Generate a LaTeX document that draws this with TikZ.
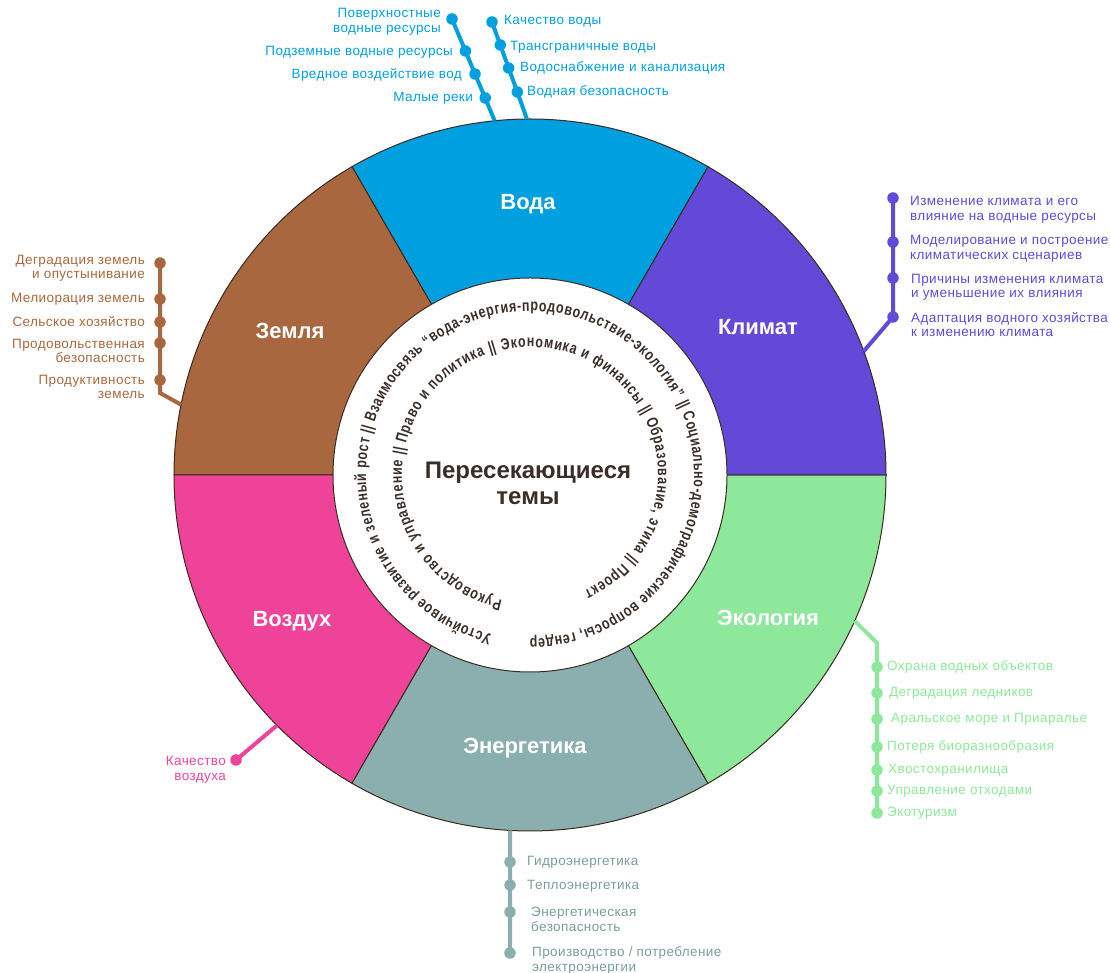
\documentclass[tikz,border=0pt]{standalone}
\usepackage{fontspec}
\setmainfont{Liberation Sans}
\newfontfamily\spiralfont[FakeStretch=0.78]{Liberation Sans}
\newfontfamily\lblfont[LetterSpace=3]{Liberation Sans}
\usetikzlibrary{decorations.text}
\definecolor{waterc}{HTML}{00A0E0}
\definecolor{climc}{HTML}{6349D8}
\definecolor{ecoc}{HTML}{8EE89B}
\definecolor{enc}{HTML}{8AAFAE}
\definecolor{entxt}{HTML}{7B9C9C}
\definecolor{airc}{HTML}{EE4399}
\definecolor{landc}{HTML}{A9673F}
\definecolor{edgec}{HTML}{3B2A20}
\definecolor{txtdark}{HTML}{3A2E28}
\tikzset{
  seg/.style={draw=edgec, line width=1},
  seglbl/.style={text=white, font={\bfseries\fontsize{22}{22}\selectfont}, inner sep=0},
  dot/.style={circle, fill=#1, inner sep=0, minimum size=11.5},
  branch/.style={draw=#1, line width=4},
  lbl/.style={text=#1, font={\lblfont\fontsize{13.5}{14.5}\selectfont}, inner sep=0},
  spiral/.style={decorate, decoration={text along path, text align={fit to path}, text={#1}}}
}
\begin{document}
\begin{tikzpicture}[x=1pt,y=1pt]
\useasboundingbox (0,0) rectangle (1110,973);
\begin{scope}[shift={(530,498)}]
  % segments
  \filldraw[seg, fill=waterc] (0,0) -- (60:356) arc[start angle=60, end angle=120, radius=356] -- cycle;
  \filldraw[seg, fill=landc] (0,0) -- (120:356) arc[start angle=120, end angle=180, radius=356] -- cycle;
  \filldraw[seg, fill=airc] (0,0) -- (180:356) arc[start angle=180, end angle=240, radius=356] -- cycle;
  \filldraw[seg, fill=enc] (0,0) -- (240:356) arc[start angle=240, end angle=300, radius=356] -- cycle;
  \filldraw[seg, fill=ecoc] (0,0) -- (300:356) arc[start angle=300, end angle=360, radius=356] -- cycle;
  \filldraw[seg, fill=climc] (0,0) -- (0:356) arc[start angle=0, end angle=60, radius=356] -- cycle;
  \filldraw[seg, fill=white] (0,0) circle[radius=197];
  % edge points of connectors
  \coordinate (wEa) at (95.7:356);
  \coordinate (wEb) at (90.5:356);
  \coordinate (kE) at (20.35:356);
  \coordinate (zE) at (168.6:356);
  \coordinate (eE) at (-24.2:356);
  \coordinate (nE) at (266.8:356);
  \coordinate (aE) at (224.7:356);
  % spiral texts
  \path[spiral={|\spiralfont\bfseries\fontsize{16}{16}\selectfont\color{txtdark}|Устойчивое развитие и зеленый рост {\textbar\textbar} Взаимосвязь “вода-энергия-продовольствие-экология” {\textbar\textbar} Социально-демографические вопросы, гендер}]
    (256.5:164) arc[start angle=256.5, end angle=-90, radius=164];
  \path[spiral={|\spiralfont\bfseries\fontsize{16}{16}\selectfont\color{txtdark}|Руководство и управление {\textbar\textbar} Право и политика {\textbar\textbar} Экономика и финансы {\textbar\textbar} Образование, этика {\textbar\textbar} Проект}]
    (257.5:128) arc[start angle=257.5, end angle=-65, radius=128];
\end{scope}
% segment labels
\node[seglbl] (tWater) at (528,769) {Вода};
\node[seglbl] (tClim) at (758,646) {Климат};
\node[seglbl] (tEco) at (768,355) {Экология};
\node[seglbl] (tEn) at (525,225) {Энергетика};
\node[seglbl] (tAir) at (292,352) {Воздух};
\node[seglbl] (tLand) at (290,642) {Земля};
\node[text=txtdark, font={\bfseries\fontsize{24}{26}\selectfont}, align=center, inner sep=0] (center) at (528,490) {Пересекающиеся\\темы};
% ---- Water branches
\node[dot=waterc] (wa1) at (452,954) {};
\node[dot=waterc] (wa2) at (465.4,922) {};
\node[dot=waterc] (wa3) at (475,899) {};
\node[dot=waterc] (wa4) at (485.2,875) {};
\draw[branch=waterc] (wEa) -- (wa4.center) -- (wa3.center) -- (wa2.center) -- (wa1.center);
\node[dot=waterc] (wb1) at (492,951) {};
\node[dot=waterc] (wb2) at (500.3,928) {};
\node[dot=waterc] (wb3) at (508.6,905) {};
\node[dot=waterc] (wb4) at (517.3,881) {};
\draw[branch=waterc] (wEb) -- (wb4.center) -- (wb3.center) -- (wb2.center) -- (wb1.center);
\node[lbl=waterc, anchor=east, align=right] (lwa1) at (441,951) {Поверхностные\\водные ресурсы};
\node[lbl=waterc, anchor=east] (lwa2) at (453,921) {Подземные водные ресурсы};
\node[lbl=waterc, anchor=east] (lwa3) at (462,898) {Вредное воздействие вод};
\node[lbl=waterc, anchor=east] (lwa4) at (473,875) {Малые реки};
\node[lbl=waterc, anchor=west] (lwb1) at (504,952) {Качество воды};
\node[lbl=waterc, anchor=west] (lwb2) at (510,926) {Трансграничные воды};
\node[lbl=waterc, anchor=west] (lwb3) at (520,905) {Водоснабжение и канализация};
\node[lbl=waterc, anchor=west] (lwb4) at (527,881) {Водная безопасность};
% ---- Climate branch
\node[dot=climc] (k1) at (893,775) {};
\node[dot=climc] (k2) at (893,731) {};
\node[dot=climc] (k3) at (893,695) {};
\node[dot=climc] (k4) at (893,656) {};
\draw[branch=climc] (kE) -- (k4.center) -- (k3.center) -- (k2.center) -- (k1.center);
\node[lbl=climc, anchor=west, align=left] (lk1) at (910,763) {Изменение климата и его\\влияние на водные ресурсы};
\node[lbl=climc, anchor=west, align=left] (lk2) at (910,724) {Моделирование и построение\\климатических сценариев};
\node[lbl=climc, anchor=west, align=left] (lk3) at (911,685.5) {Причины изменения климата\\и уменьшение их влияния};
\node[lbl=climc, anchor=west, align=left] (lk4) at (911,648.5) {Адаптация водного хозяйства\\к изменению климата};
% ---- Land branch
\node[dot=landc] (z1) at (160,710) {};
\node[dot=landc] (z2) at (160,674) {};
\node[dot=landc] (z3) at (160,651) {};
\node[dot=landc] (z4) at (160,630) {};
\node[dot=landc] (z5) at (160,593) {};
\coordinate (zc) at (160,580);
\draw[branch=landc] (zE) -- (zc) -- (z5.center) -- (z4.center) -- (z3.center) -- (z2.center) -- (z1.center);
\node[lbl=landc, anchor=east, align=right] (lz1) at (145,704.5) {Деградация земель\\и опустынивание};
\node[lbl=landc, anchor=east] (lz2) at (145,674) {Мелиорация земель};
\node[lbl=landc, anchor=east] (lz3) at (145,651) {Сельское хозяйство};
\node[lbl=landc, anchor=east, align=right] (lz4) at (145,622) {Продовольственная\\безопасность};
\node[lbl=landc, anchor=east, align=right] (lz5) at (145,586) {Продуктивность\\земель};
% ---- Ecology branch
\coordinate (ec) at (877,330);
\node[dot=ecoc] (e1) at (877,306) {};
\node[dot=ecoc] (e2) at (877,280) {};
\node[dot=ecoc] (e3) at (877,254) {};
\node[dot=ecoc] (e4) at (877,226) {};
\node[dot=ecoc] (e5) at (877,203) {};
\node[dot=ecoc] (e6) at (877,182) {};
\node[dot=ecoc] (e7) at (877,160) {};
\draw[branch=ecoc] (eE) -- (ec) -- (e1.center) -- (e2.center) -- (e3.center) -- (e4.center) -- (e5.center) -- (e6.center) -- (e7.center);
\node[lbl=ecoc, anchor=west] (le1) at (887,306) {Охрана водных объектов};
\node[lbl=ecoc, anchor=west] (le2) at (889,280) {Деградация ледников};
\node[lbl=ecoc, anchor=west] (le3) at (891,254) {Аральское море и Приаралье};
\node[lbl=ecoc, anchor=west] (le4) at (887,226) {Потеря биоразнообразия};
\node[lbl=ecoc, anchor=west] (le5) at (888,203) {Хвостохранилища};
\node[lbl=ecoc, anchor=west] (le6) at (887,182) {Управление отходами};
\node[lbl=ecoc, anchor=west] (le7) at (887,160) {Экотуризм};
% ---- Energy branch
\node[dot=enc] (n1) at (510,111) {};
\node[dot=enc] (n2) at (510,88) {};
\node[dot=enc] (n3) at (510,61) {};
\node[dot=enc] (n4) at (510,20) {};
\draw[branch=enc] (nE) -- (n1.center) -- (n2.center) -- (n3.center) -- (n4.center);
\node[lbl=entxt, anchor=west] (ln1) at (527,111) {Гидроэнергетика};
\node[lbl=entxt, anchor=west] (ln2) at (527,87) {Теплоэнергетика};
\node[lbl=entxt, anchor=west, align=left] (ln3) at (531,53.5) {Энергетическая\\безопасность};
\node[lbl=entxt, anchor=west, align=left] (ln4) at (532,12.5) {Производство / потребление\\электроэнергии};
% ---- Air branch
\node[dot=airc] (a1) at (236,213) {};
\draw[branch=airc] (aE) -- (a1.center);
\node[lbl=airc, anchor=east, align=right] (la1) at (226,203) {Качество\\воздуха};
\end{tikzpicture}
\end{document}
